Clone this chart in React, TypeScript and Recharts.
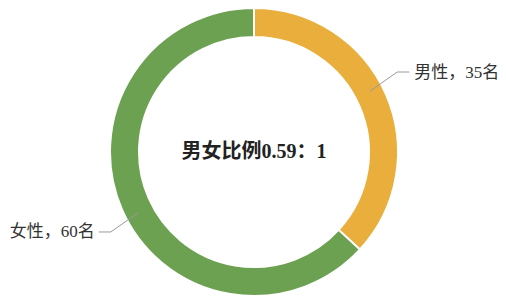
import { PieChart, Pie, Cell } from 'recharts';

const categories = ['男性', '女性'];
const counts = [35, 60];
const centerTitle = '男女比例0.59：1';

const COLORS = ['#E9AE3C', '#6CA152'];
const RAD = Math.PI / 180;

const data = categories.map((name, i) => ({ name, value: counts[i] }));

// Label with an elbow leader line, roughly like the original
function renderLabel(props: any) {
  const { cx, cy, midAngle, outerRadius, index } = props;
  const d = data[index];
  const a0 = (midAngle + 4) * RAD;
  const a1 = (midAngle + 5.5) * RAD;
  const sx = cx + (outerRadius - 13) * Math.cos(a0);
  const sy = cy - (outerRadius - 13) * Math.sin(a0);
  const ex = cx + (outerRadius + 20) * Math.cos(a1);
  const ey = cy - (outerRadius + 20) * Math.sin(a1);
  const right = Math.cos(a1) >= 0;
  const hx = ex + (right ? 12 : -12);
  const tx = hx + (right ? 5 : -4);
  return (
    <g>
      <polyline
        points={`${sx},${sy} ${ex},${ey} ${hx},${ey}`}
        fill="none"
        stroke="#9a9a9a"
        strokeWidth={1}
      />
      <text
        x={tx}
        y={ey}
        textAnchor={right ? 'start' : 'end'}
        dominantBaseline="central"
        fill="#333"
        fontSize={17}
        fontFamily="'Liberation Serif', 'Noto Sans CJK SC', serif"
      >
        {`${d.name}，${d.value}名`}
      </text>
    </g>
  );
}

export default function App() {
  return (
    <div style={{ width: 506, height: 297, background: '#fff' }}>
      <style>{`body{margin:0}`}</style>
      <PieChart width={506} height={297} margin={{ top: 0, right: 0, bottom: 0, left: 0 }}>
        <Pie
          data={data}
          dataKey="value"
          nameKey="name"
          cx={254}
          cy={152}
          innerRadius={115}
          outerRadius={144}
          startAngle={90}
          endAngle={-270}
          stroke="#fff"
          strokeWidth={2}
          label={renderLabel}
          labelLine={false}
          isAnimationActive={false}
        >
          {data.map((d, i) => (
            <Cell key={d.name} fill={COLORS[i]} />
          ))}
        </Pie>
        <text
          x={254}
          y={151}
          textAnchor="middle"
          dominantBaseline="central"
          fill="#222"
          fontSize={20}
          fontWeight="bold"
          fontFamily="'Liberation Serif', 'Noto Sans CJK SC', serif"
        >
          {centerTitle}
        </text>
      </PieChart>
    </div>
  );
}
